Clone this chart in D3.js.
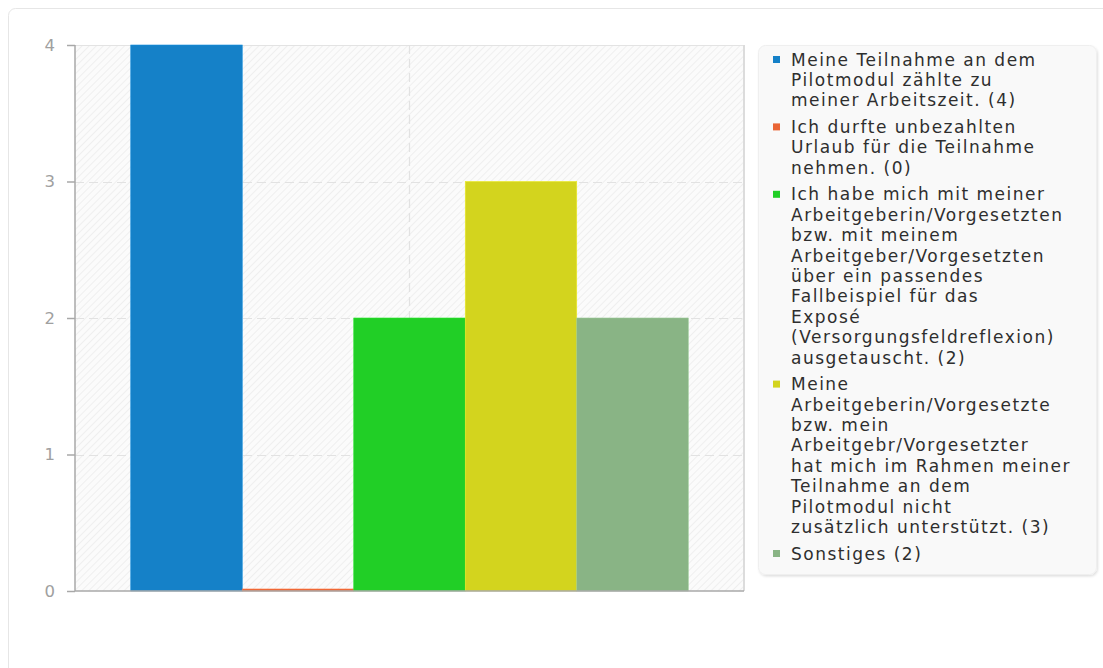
<!DOCTYPE html>
<html>
<head>
<meta charset="utf-8">
<script src="https://cdn.jsdelivr.net/npm/d3@7"></script>
<style>
  html, body { margin: 0; padding: 0; background: #ffffff; }
  svg { display: block; font-family: "DejaVu Sans", sans-serif; }
</style>
</head>
<body>
<svg id="chart" width="1103" height="668"></svg>
<script>
// ---- data ----
const categories = ["Antwort"];
const seriesLabels = [
  "Meine Teilnahme an dem\nPilotmodul zählte zu\nmeiner Arbeitszeit.",
  "Ich durfte unbezahlten\nUrlaub für die Teilnahme\nnehmen.",
  "Ich habe mich mit meiner\nArbeitgeberin/Vorgesetzten\nbzw. mit meinem\nArbeitgeber/Vorgesetzten\nüber ein passendes\nFallbeispiel für das\nExposé\n(Versorgungsfeldreflexion)\nausgetauscht.",
  "Meine\nArbeitgeberin/Vorgesetzte\nbzw. mein\nArbeitgebr/Vorgesetzter\nhat mich im Rahmen meiner\nTeilnahme an dem\nPilotmodul nicht\nzusätzlich unterstützt.",
  "Sonstiges"
];
const seriesValues = [4, 0, 2, 3, 2];
const seriesColors = ["#1581c8", "#ea6535", "#21cf26", "#d3d41e", "#89b485"];
const yTicks = [0, 1, 2, 3, 4];

// ---- layout ----
const svg = d3.select("#chart");
const plot = { left: 75, right: 744, top: 45, bottom: 591 };

// outer card
svg.append("rect")
  .attr("x", 8.5).attr("y", 8.5)
  .attr("width", 1120).attr("height", 700)
  .attr("rx", 7)
  .attr("fill", "#fff").attr("stroke", "#e6e6e6");

// hatch pattern
const defs = svg.append("defs");
const pat = defs.append("pattern")
  .attr("id", "hatch").attr("patternUnits", "userSpaceOnUse")
  .attr("width", 5).attr("height", 5)
  .attr("patternTransform", "rotate(45)");
pat.append("rect").attr("width", 5).attr("height", 5).attr("fill", "#fbfbfb");
pat.append("line").attr("x1", 0).attr("y1", 0).attr("x2", 0).attr("y2", 5)
  .attr("stroke", "#ececec").attr("stroke-width", 1.6);

const filt = defs.append("filter").attr("id", "shadow")
  .attr("x", "-5%").attr("y", "-5%").attr("width", "110%").attr("height", "110%");
filt.append("feDropShadow").attr("dx", 1).attr("dy", 1.5).attr("stdDeviation", 1.2)
  .attr("flood-color", "#000").attr("flood-opacity", 0.12);

// scales
const x0 = d3.scaleBand().domain(categories).range([plot.left, plot.right])
  .paddingInner(0).paddingOuter(0.1);
const x1 = d3.scaleBand().domain(d3.range(seriesValues.length))
  .range([0, x0.bandwidth()]).padding(0);
const y = d3.scaleLinear().domain([0, 4]).range([plot.bottom, plot.top]);

// plot background
svg.append("rect")
  .attr("x", plot.left).attr("y", plot.top)
  .attr("width", plot.right - plot.left).attr("height", plot.bottom - plot.top)
  .attr("fill", "url(#hatch)");

// border top / right
svg.append("line").attr("x1", plot.left).attr("x2", plot.right)
  .attr("y1", plot.top + 0.5).attr("y2", plot.top + 0.5)
  .attr("stroke", "#e3e3e3").attr("stroke-width", 1);
svg.append("line").attr("x1", plot.right).attr("x2", plot.right)
  .attr("y1", plot.top).attr("y2", plot.bottom)
  .attr("stroke", "#dcdcdc").attr("stroke-width", 2);

// horizontal grid
svg.append("g").selectAll("line")
  .data(yTicks.filter(t => t > 0 && t < 4))
  .join("line")
  .attr("x1", plot.left).attr("x2", plot.right)
  .attr("y1", d => Math.round(y(d)) + 0.5).attr("y2", d => Math.round(y(d)) + 0.5)
  .attr("stroke", "#e2e2e2").attr("stroke-width", 1.2)
  .attr("stroke-dasharray", "9,5");

// vertical category grid
svg.append("g").selectAll("line")
  .data(categories).join("line")
  .attr("x1", d => x0(d) + x0.bandwidth() / 2).attr("x2", d => x0(d) + x0.bandwidth() / 2)
  .attr("y1", plot.top).attr("y2", plot.bottom)
  .attr("stroke", "#e2e2e2").attr("stroke-width", 1.2)
  .attr("stroke-dasharray", "9,5");

// bars
const gBars = svg.append("g");
categories.forEach(cat => {
  gBars.selectAll(null)
    .data(seriesValues.map((v, i) => ({ v, i })))
    .join("rect")
    .attr("x", d => x0(cat) + x1(d.i))
    .attr("width", x1.bandwidth())
    .attr("y", d => Math.min(y(d.v), y(0) - 2))
    .attr("height", d => Math.max(y(0) - y(d.v), 2))
    .attr("fill", d => seriesColors[d.i])
    .attr("stroke", d => d3.color(seriesColors[d.i]).brighter(0.3))
    .attr("stroke-width", 0.6);
});

// y axis
const yAxis = d3.axisLeft(y).tickValues(yTicks).tickFormat(d3.format("d"))
  .tickSize(8).tickPadding(12);
const gy = svg.append("g").attr("transform", `translate(${plot.left},0)`).call(yAxis);
gy.select(".domain").attr("stroke", "#a8a8a8").attr("stroke-width", 1.5)
  .attr("d", `M0,${plot.top}V${plot.bottom}`);
gy.selectAll(".tick line").attr("stroke", "#a8a8a8").attr("stroke-width", 1.5);
gy.selectAll(".tick text").attr("fill", "#a0a0a0").attr("font-size", 16.5)
  .attr("font-family", "DejaVu Sans, sans-serif");

// x axis line
const xAxis = d3.axisBottom(x0).tickSize(0).tickFormat(() => "");
const gx = svg.append("g").attr("transform", `translate(0,${plot.bottom})`).call(xAxis);
gx.select(".domain").attr("stroke", "#a8a8a8").attr("stroke-width", 1.5)
  .attr("d", `M${plot.left},0H${plot.right}`);

// legend
const legend = { x: 758.5, y: 45.5, w: 338, h: 529 };
svg.append("rect")
  .attr("x", legend.x).attr("y", legend.y)
  .attr("width", legend.w).attr("height", legend.h)
  .attr("rx", 7)
  .attr("fill", "#f9f9f9").attr("stroke", "#efefef")
  .attr("filter", "url(#shadow)");

const lineH = 20.4, itemGap = 6.2;
let cy = 59;
const gL = svg.append("g");
seriesLabels.forEach((lab, i) => {
  const lines = lab.split("\n");
  lines[lines.length - 1] += " (" + seriesValues[i] + ")";
  gL.append("rect")
    .attr("x", 773).attr("y", cy - 3)
    .attr("width", 7).attr("height", 7)
    .attr("fill", seriesColors[i]);
  const t = gL.append("text")
    .attr("x", 791)
    .attr("font-size", 17).attr("letter-spacing", 1.5)
    .attr("fill", "#2e2e2e");
  lines.forEach((ln, j) => {
    t.append("tspan").attr("x", 791).attr("y", cy + 6.5 + j * lineH).text(ln);
  });
  cy += lines.length * lineH + itemGap;
});
</script>
</body>
</html>
